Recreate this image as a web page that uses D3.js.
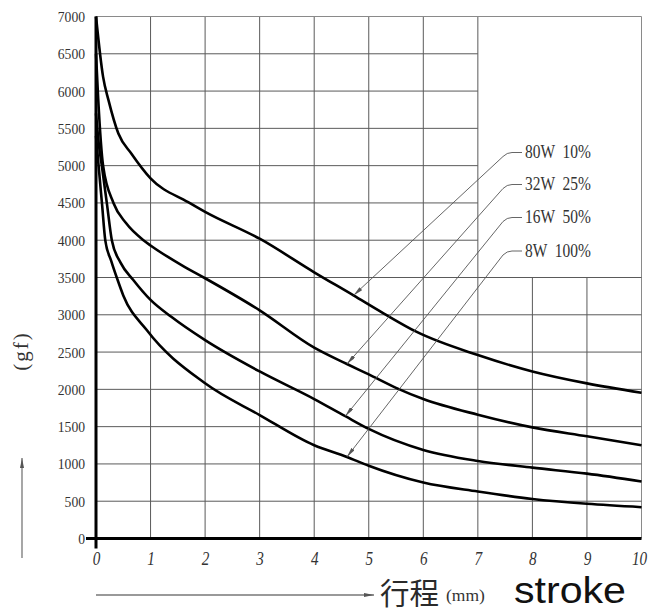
<!DOCTYPE html>
<html>
<head>
<meta charset="utf-8">
<script src="https://cdn.jsdelivr.net/npm/d3@7"></script>
<style>
  html, body { margin: 0; padding: 0; background: #fff; }
  svg { display: block; }
</style>
</head>
<body>
<script>
// Ось X: ход (мм), ось Y: усилие (gf)
const xTicks = [0, 1, 2, 3, 4, 5, 6, 7, 8, 9, 10];
const yTicks = [0, 500, 1000, 1500, 2000, 2500, 3000, 3500, 4000, 4500, 5000, 5500, 6000, 6500, 7000];

const seriesNames = ["80W  10%", "32W  25%", "16W  50%", "8W  100%"];

// Кривые
const x80W = [0, 0.13, 0.23, 0.41, 0.65, 1, 1.69, 2, 3, 4, 4.72, 5.27, 5.88, 7, 8, 9, 10];
const y80W = [7000, 6190, 5875, 5430, 5160, 4830, 4510, 4380, 4020, 3570, 3260, 3020, 2770, 2460, 2240, 2080, 1955];

const x32W = [0, 0.04, 0.13, 0.32, 0.55, 0.87, 1, 1.63, 2, 3, 4, 4.6, 5, 5.5, 6, 7, 8, 9, 10];
const y32W = [6500, 5900, 5000, 4500, 4230, 4000, 3930, 3640, 3490, 3060, 2560, 2340, 2200, 2020, 1870, 1660, 1490, 1370, 1250];

const x16W = [0, 0.05, 0.11, 0.2, 0.29, 0.45, 0.68, 1, 1.38, 2, 3, 4, 4.57, 5, 6, 7, 8, 9, 10];
const y16W = [5700, 5300, 4980, 4490, 4000, 3700, 3470, 3200, 2973, 2660, 2240, 1870, 1640, 1470, 1188, 1040, 950, 870, 765];

const x8W = [0, 0.05, 0.11, 0.17, 0.28, 0.39, 0.5, 0.93, 2, 3, 4, 4.6, 5, 6, 7, 8, 9, 10];
const y8W = [5400, 4980, 4490, 4000, 3720, 3480, 3260, 2795, 2081, 1656, 1250, 1094, 975, 750, 630, 530, 465, 420];

// Точки, куда указывают стрелки выносок
const arrowX = [4.72, 4.6, 4.57, 4.6];
const arrowY = [3260, 2340, 1640, 1094];

const width = 648;
const height = 611;
const margin = { top: 16.5, right: 6.5, bottom: 72.5, left: 96 };

const svg = d3
  .select("body")
  .append("svg")
  .attr("width", width)
  .attr("height", height);

const x = d3.scaleLinear().domain([0, 10]).range([margin.left, width - margin.right]);
const y = d3.scaleLinear().domain([0, 7000]).range([height - margin.bottom, margin.top]);

const gridColor = "#5a5a5a";

// Сетка: правый верхний угол оставлен пустым под легенду
const grid = svg.append("g").attr("class", "grid");

grid
  .selectAll(".vline")
  .data(xTicks.filter((d) => d > 0))
  .enter()
  .append("line")
  .attr("x1", (d) => x(d))
  .attr("x2", (d) => x(d))
  .attr("y1", y(0))
  .attr("y2", (d) => (d === 8 || d === 9 ? y(3500) : y(7000)))
  .attr("stroke", (d) => (d === 10 ? "#8a8a8a" : gridColor))
  .attr("stroke-width", 1);

grid
  .selectAll(".hline")
  .data(yTicks.filter((d) => d > 0))
  .enter()
  .append("line")
  .attr("x1", x(0))
  .attr("x2", (d) => (d > 3500 && d < 7000 ? x(7) : x(10)))
  .attr("y1", (d) => y(d))
  .attr("y2", (d) => y(d))
  .attr("stroke", (d) => (d === 7000 ? "#8a8a8a" : gridColor))
  .attr("stroke-width", 1);

// Подписи осей через d3.axis
const yAxis = svg
  .append("g")
  .attr("transform", `translate(${x(0)},0)`)
  .call(d3.axisLeft(y).tickValues(yTicks).tickSize(0).tickPadding(12.5).tickFormat(d3.format("d")));
yAxis.select(".domain").remove();
yAxis
  .selectAll("text")
  .attr("font-family", "'Liberation Serif', 'Times New Roman', serif")
  .attr("font-size", 15.5)
  .attr("fill", "#333")
  .attr("transform", "scale(0.88,1)");

const xAxis = svg
  .append("g")
  .attr("transform", `translate(0,${y(0)})`)
  .call(d3.axisBottom(x).tickValues(xTicks).tickSize(0).tickPadding(13).tickFormat(d3.format("d")));
xAxis.select(".domain").remove();
xAxis
  .selectAll("text")
  .attr("font-family", "'Liberation Serif', 'Times New Roman', serif")
  .attr("font-style", "italic")
  .attr("font-size", 19)
  .attr("fill", "#333")
  .attr("dx", (d) => (d === 10 ? -3 : 0))
  .attr("transform", "scale(0.8,1)");

// Кривые
const line = d3
  .line()
  .x((d) => x(d[0]))
  .y((d) => y(d[1]))
  .curve(d3.curveMonotoneX);

const series = [
  d3.zip(x80W, y80W),
  d3.zip(x32W, y32W),
  d3.zip(x16W, y16W),
  d3.zip(x8W, y8W),
];

svg
  .selectAll(".curve")
  .data(series)
  .enter()
  .append("path")
  .attr("class", "curve")
  .attr("d", line)
  .attr("fill", "none")
  .attr("stroke", "#000")
  .attr("stroke-width", 2.6)
  .attr("stroke-linejoin", "round");

// Жирные оси с небольшим выступом за начало координат
svg
  .append("line")
  .attr("x1", x(0))
  .attr("x2", x(0))
  .attr("y1", y(0) + 10)
  .attr("y2", y(7000))
  .attr("stroke", "#000")
  .attr("stroke-width", 3);

svg
  .append("line")
  .attr("x1", x(0) - 10)
  .attr("x2", x(10))
  .attr("y1", y(0))
  .attr("y2", y(0))
  .attr("stroke", "#000")
  .attr("stroke-width", 3);

// Наконечники стрелок
const defs = svg.append("defs");
defs
  .append("marker")
  .attr("id", "tip")
  .attr("viewBox", "0 0 10 4")
  .attr("refX", 10)
  .attr("refY", 2)
  .attr("markerUnits", "userSpaceOnUse")
  .attr("markerWidth", 10)
  .attr("markerHeight", 4)
  .attr("orient", "auto")
  .append("path")
  .attr("d", "M0,0 L10,2 L0,4 Z")
  .attr("fill", "#555");

// Легенда с выносками
const labelX = 525;
const labelY = [152.5, 184.5, 217.5, 251];

const legend = svg.append("g").attr("class", "legend");

legend
  .selectAll(".leader")
  .data(seriesNames)
  .enter()
  .append("path")
  .attr("class", "leader")
  .attr("d", (d, i) => {
    const ly = labelY[i];
    const tx = x(arrowX[i]);
    const ty = y(arrowY[i]);
    return `M${labelX - 3},${ly} L${labelX - 13},${ly} Q${labelX - 18},${ly} ${labelX - 22},${ly + 4} L${tx},${ty}`;
  })
  .attr("fill", "none")
  .attr("stroke", "#555")
  .attr("stroke-width", 0.9)
  .attr("marker-end", "url(#tip)");

legend
  .selectAll(".label")
  .data(seriesNames)
  .enter()
  .append("text")
  .attr("class", "label")
  .attr("x", labelX / 0.86)
  .attr("y", (d, i) => labelY[i] + 6)
  .attr("transform", "scale(0.86,1)")
  .attr("font-family", "'Liberation Serif', 'Times New Roman', serif")
  .attr("font-size", 18)
  .attr("fill", "#333")
  .style("white-space", "pre")
  .text((d) => d);

// Подпись оси Y и стрелка
svg
  .append("text")
  .attr("transform", "translate(28,351) rotate(-90)")
  .attr("text-anchor", "middle")
  .attr("font-family", "'Liberation Serif', 'Times New Roman', serif")
  .attr("font-size", 21)
  .attr("letter-spacing", 2)
  .attr("fill", "#333")
  .text("(gf)");

const arrowLine = svg.append("g").attr("stroke", "#777").attr("stroke-width", 1.3);
arrowLine
  .append("line")
  .attr("x1", 22)
  .attr("x2", 22)
  .attr("y1", 558)
  .attr("y2", 458)
  .attr("marker-end", "url(#tip)");

arrowLine
  .append("line")
  .attr("x1", x(0))
  .attr("x2", 374)
  .attr("y1", 595)
  .attr("y2", 595)
  .attr("marker-end", "url(#tip)");

// Подпись оси X
svg
  .append("text")
  .attr("x", 380)
  .attr("y", 604)
  .attr("font-family", "'Noto Sans CJK SC', sans-serif")
  .attr("font-size", 29.5)
  .attr("fill", "#2a2a2a")
  .text("行程");

svg
  .append("text")
  .attr("x", 446)
  .attr("y", 601)
  .attr("font-family", "'Liberation Serif', 'Times New Roman', serif")
  .attr("font-size", 17.5)
  .attr("fill", "#333")
  .text("(mm)");

svg
  .append("text")
  .attr("x", 514)
  .attr("y", 603)
  .attr("font-family", "'Liberation Sans', Arial, sans-serif")
  .attr("font-size", 36)
  .attr("textLength", 112)
  .attr("lengthAdjust", "spacingAndGlyphs")
  .attr("fill", "#111")
  .text("stroke");
</script>
</body>
</html>
